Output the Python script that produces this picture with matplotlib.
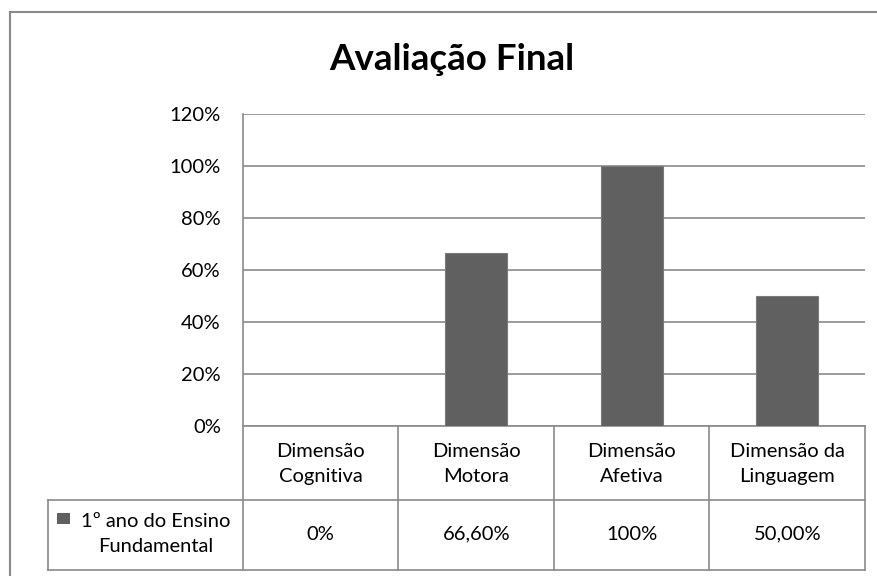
import matplotlib
matplotlib.use("Agg")
import matplotlib.pyplot as plt
from matplotlib.ticker import FuncFormatter
from matplotlib.patches import Rectangle
from matplotlib.lines import Line2D
import matplotlib.transforms as mtransforms

plt.rcParams['font.family'] = ['Lato', 'DejaVu Sans']

# ---- data ----
categories = ["Dimensão\nCognitiva", "Dimensão\nMotora", "Dimensão\nAfetiva", "Dimensão da\nLinguagem"]
values = [0.0, 0.666, 1.0, 0.50]
value_labels = ["0%", "66,60%", "100%", "50,00%"]
series_name = "1º ano do Ensino\nFundamental"
yticks = [0.0, 0.2, 0.4, 0.6, 0.8, 1.0, 1.2]
title = "Avaliação Final"

W, H = 878, 576
fig = plt.figure(figsize=(W / 100, H / 100), dpi=100)

# plot area in pixels
L, R, T, B = 243, 865, 114, 426
ax = fig.add_axes([L / W, (H - B) / H, (R - L) / W, (B - T) / H])

grid_c = "#8a8a8a"
bar_c = "#606060"

x = list(range(len(categories)))
ax.bar(x, values, width=0.4, color=bar_c, edgecolor="#7a7a7a", linewidth=0.8, zorder=3)
ax.set_xlim(-0.5, len(categories) - 0.5)
ax.set_ylim(0, 1.2)
ax.set_yticks(yticks)
ax.yaxis.set_major_formatter(FuncFormatter(lambda v, p: f"{v*100:.0f}%"))
ax.tick_params(axis='y', length=0, pad=16, labelsize=14.5, labelcolor="black")
ax.set_xticks([])
ax.grid(axis='y', color=grid_c, linewidth=1.2, zorder=0)
ax.set_axisbelow(True)
for s in ["top", "right", "bottom"]:
    ax.spines[s].set_visible(False)
ax.spines["left"].set_color(grid_c)
ax.spines["left"].set_linewidth(1.2)

# ---- data table below the axis (x in data coords, y in axes fraction) ----
trans = mtransforms.blended_transform_factory(ax.transData, ax.transAxes)
px = (R - L) / len(categories)  # px per category
def xd(pix):
    return -0.5 + (pix - L) / px
def ya(pix):
    return (B - pix) / (B - T)

y_head_bot = ya(500)
y_tab_bot = ya(570)
x_left = xd(48)
n = len(categories)
lw = 1.2
for yy in [0, y_head_bot, y_tab_bot]:
    x0 = -0.5 if yy == 0 else x_left
    ax.add_line(Line2D([x0, n - 0.5], [yy, yy], transform=trans, color=grid_c, lw=lw, clip_on=False))
for k in range(n + 1):
    xv = -0.5 + k
    ax.add_line(Line2D([xv, xv], [0, y_tab_bot], transform=trans, color=grid_c, lw=lw, clip_on=False))
ax.add_line(Line2D([x_left, x_left], [y_head_bot, y_tab_bot], transform=trans, color=grid_c, lw=lw, clip_on=False))

fs = 14.5
for i, (c, v) in enumerate(zip(categories, value_labels)):
    ax.text(i, ya(464), c, transform=trans, ha='center', va='center',
            fontsize=fs, linespacing=1.6, clip_on=False)
    ax.text(i, ya(534), v, transform=trans, ha='center', va='center',
            fontsize=fs, clip_on=False)

ax.text(xd(156), ya(534), series_name, transform=trans, ha='center', va='center',
        fontsize=fs, linespacing=1.6, clip_on=False)
ax.add_patch(Rectangle((xd(57), ya(524)), 13 / px, 11 / (B - T), transform=trans,
                       facecolor=bar_c, edgecolor="none", clip_on=False))

# ---- title ----
fig.text(452 / W, 1 - 59 / H, title, ha='center', va='center', fontsize=26.5, fontweight='bold')

# ---- outer chart border ----
fig.add_artist(Line2D([10 / W, 10 / W], [0, 1 - 12 / H], transform=fig.transFigure, color="#8a8a8a", lw=1.5))
fig.add_artist(Line2D([10 / W, 1], [1 - 12 / H, 1 - 12 / H], transform=fig.transFigure, color="#8a8a8a", lw=1.5))

fig.savefig("out.png", dpi=100)
